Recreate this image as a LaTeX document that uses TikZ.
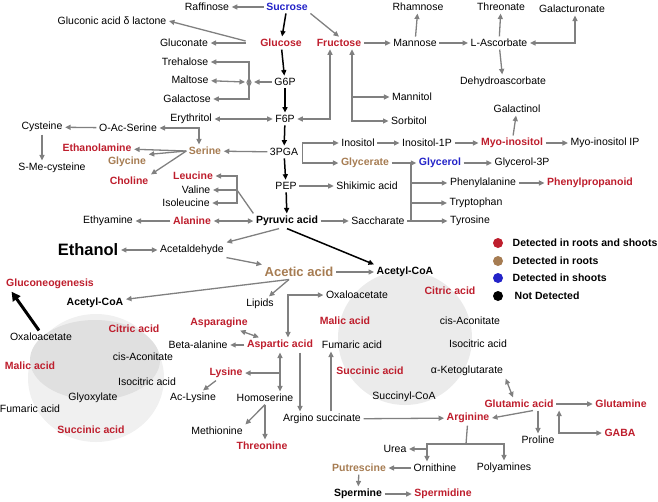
\documentclass[tikz,border=0pt]{standalone}
\usepackage{fontspec}
\setmainfont{Liberation Sans}
\usetikzlibrary{arrows.meta}
\definecolor{detred}{RGB}{190,30,45}
\definecolor{detbrown}{RGB}{166,124,82}
\definecolor{detblue}{RGB}{35,35,200}
\definecolor{flowgray}{RGB}{128,128,128}
\tikzset{
    >={Triangle[length=5.5pt,width=5pt]},
    metab/.style   = { inner sep=2.5pt, font=\fontsize{10.5}{12}\selectfont },
    inboth/.style  = { metab, text=detred, font=\fontsize{10.5}{12}\selectfont\bfseries },
    inroot/.style  = { metab, text=detbrown, font=\fontsize{10.5}{12}\selectfont\bfseries },
    inshoot/.style = { metab, text=detblue, font=\fontsize{10.5}{12}\selectfont\bfseries },
    notdet/.style  = { metab, font=\fontsize{10.5}{12}\selectfont\bfseries },
    flow/.style    = { draw=flowgray, line width=1.3pt, -> },
    dflow/.style   = { draw=flowgray, line width=1.3pt, <-> },
    gflow/.style   = { draw=flowgray, line width=1.3pt },
    main/.style    = { draw=black, line width=1.5pt, -> },
}

\begin{document}
\begin{tikzpicture}[x=1pt,y=-1pt]
\useasboundingbox (0,0) rectangle (658,501);
% cycles
\fill[black!6] (96,378) ellipse (68 and 64);
\fill[black!12] (95,360) ellipse (65 and 40);
\fill[black!8] (405,338) circle (67);

% sugars
\node[inshoot] (suc) at (287,7) {Sucrose};
\node[metab] (raf) at (207,7) {Raffinose};
\node[inboth] (glc) at (281,43) {Glucose};
\node[inboth] (fru) at (339,43) {Fructose};
\node[metab] (glcl) at (112,21) {Gluconic acid δ lactone};
\node[metab] (glcn) at (184,43) {Gluconate};
\node[metab] (tre) at (185,62) {Trehalose};
\node[metab] (mal) at (190,80) {Maltose};
\node[metab] (gal) at (187,99) {Galactose};
\node[metab] (g6p) at (285,82) {G6P};
\node[metab] (ery) at (191,119) {Erythritol};
\node[metab] (f6p) at (285,119) {F6P};
\node[metab] (man) at (415,43) {Mannose};
\node[metab] (rha) at (418,7) {Rhamnose};
\node[metab] (asc) at (499,43) {L-Ascorbate};
\node[metab] (thrn) at (501,7) {Threonate};
\node[metab] (galu) at (572,9) {Galacturonate};
\node[metab] (dha) at (503,82) {Dehydroascorbate};
\node[metab] (mnt) at (412,97) {Mannitol};
\node[metab] (sor) at (409,121) {Sorbitol};
\node[metab] (glctn) at (517,109) {Galactinol};
\node[metab] (ino) at (358,143) {Inositol};
\node[metab] (ino1p) at (427,143) {Inositol-1P};
\node[inboth] (myo) at (512,143) {Myo-inositol};
\node[metab] (myoip) at (605,143) {Myo-inositol IP};
\node[inroot] (gla) at (365,163) {Glycerate};
\node[inshoot] (gly) at (440,163) {Glycerol};
\node[metab] (g3p) at (522,163) {Glycerol-3P};
\node[metab] (phe) at (483,183) {Phenylalanine};
\node[inboth] (php) at (590,183) {Phenylpropanoid};
\node[metab] (trp) at (476,203) {Tryptophan};
\node[metab] (tyr) at (470,221) {Tyrosine};
\node[metab] (sac) at (378,221) {Saccharate};
\node[metab] (shi) at (367,186) {Shikimic acid};
\node[metab] (pga) at (284,152) {3PGA};
\node[metab] (pep) at (286,186) {PEP};
\node[notdet] (pyr) at (287,221) {Pyruvic acid};

% amino acids
\node[inroot] (ser) at (205,151) {Serine};
\node[metab] (oas) at (128,128) {O-Ac-Serine};
\node[metab] (cys) at (42,127) {Cysteine};
\node[metab] (smc) at (52,168) {S-Me-cysteine};
\node[inboth] (eta) at (97,148) {Ethanolamine};
\node[inroot] (glyc) at (127,162) {Glycine};
\node[inboth] (cho) at (129,181) {Choline};
\node[inboth] (leu) at (193,176) {Leucine};
\node[metab] (val) at (196,190) {Valine};
\node[metab] (ile) at (186,203) {Isoleucine};
\node[inboth] (ala) at (192,221) {Alanine};
\node[metab] (eth) at (108,221) {Ethyamine};
\node[notdet, font=\fontsize{16.5}{18}\selectfont\bfseries] (etoh) at (88,250) {Ethanol};
\node[metab] (acd) at (192,250) {Acetaldehyde};
\node[inroot, font=\fontsize{13}{15}\selectfont\bfseries] (ace) at (299,272) {Acetic acid};
\node[notdet] (acoa) at (405,272) {Acetyl-CoA};
\node[notdet] (acoa2) at (95,303) {Acetyl-CoA};
\node[metab] (lip) at (260,304) {Lipids};
\node[inboth] (gng) at (50,284) {Gluconeogenesis};

% glyoxylate cycle
\node[metab] (oaa2) at (41,337) {Oxaloacetate};
\node[inboth] (cit2) at (134,329) {Citric acid};
\node[metab] (cis2) at (143,357) {cis-Aconitate};
\node[inboth] (mala2) at (30,366) {Malic acid};
\node[metab] (ici2) at (147,382) {Isocitric acid};
\node[metab] (glx) at (93,398) {Glyoxylate};
\node[metab] (fum2) at (30,409) {Fumaric acid};
\node[inboth] (suca2) at (91,430) {Succinic acid};

% TCA cycle
\node[metab] (oaa) at (357,295) {Oxaloacetate};
\node[inboth] (mala) at (345,321) {Malic acid};
\node[metab] (fum) at (352,345) {Fumaric acid};
\node[inboth] (suca) at (370,371) {Succinic acid};
\node[inboth] (cit) at (450,291) {Citric acid};
\node[metab] (cis) at (470,321) {cis-Aconitate};
\node[metab] (ici) at (478,344) {Isocitric acid};
\node[metab] (akg) at (467,371) {α-Ketoglutarate};
\node[metab] (scoa) at (404,397) {Succinyl-CoA};

\node[inboth] (asp) at (280,345) {Aspartic acid};
\node[inboth] (asn) at (219,323) {Asparagine};
\node[metab] (bal) at (198,345) {Beta-alanine};
\node[inboth] (lys) at (226,373) {Lysine};
\node[metab] (alys) at (193,398) {Ac-Lysine};
\node[metab] (hse) at (265,398) {Homoserine};
\node[metab] (metn) at (217,431) {Methionine};
\node[inboth] (thre) at (262,446) {Threonine};
\node[metab] (args) at (322,419) {Argino succinate};
\node[inboth] (arg) at (468,418) {Arginine};
\node[inboth] (glu) at (519,404) {Glutamic acid};
\node[inboth] (glnm) at (621,404) {Glutamine};
\node[inboth] (gaba) at (620,433) {GABA};
\node[metab] (pro) at (538,440) {Proline};
\node[metab] (urea) at (395,449) {Urea};
\node[metab] (orn) at (435,468) {Ornithine};
\node[metab] (pam) at (504,468) {Polyamines};
\node[inroot] (put) at (359,468) {Putrescine};
\node[notdet] (spm) at (358,494) {Spermine};
\node[inboth] (spd) at (443,494) {Spermidine};

% legend
\fill[detred] (498,243) circle (5);
\fill[detbrown] (498,261) circle (5);
\fill[detblue] (498,278) circle (5);
\fill[black] (498,296) circle (5);
\node[notdet, anchor=west] (lg1) at (510,243) {Detected in roots and shoots};
\node[notdet, anchor=west] (lg2) at (510,261) {Detected in roots};
\node[notdet, anchor=west] (lg3) at (510,278) {Detected in shoots};
\node[notdet, anchor=west] (lg4) at (512,296) {Not Detected};

% main route
\draw[main] (suc) -- (glc);
\draw[main] (glc) -- (g6p);
\draw[main] (g6p) -- (f6p);
\draw[main] (f6p) -- (pga);
\draw[main] (pga) -- (pep);
\draw[main] (pep) -- (pyr);
\draw[main] (pyr.south) -- (acoa.north west);
\draw[main, line width=3pt, -{Triangle[length=9pt,width=9pt]}] ([xshift=-2pt]oaa2.north) -- ([xshift=8pt]gng.south west);

% sugars
\draw[flow] (suc) -- (raf);
\draw[flow] (suc.south east) -- (fru.north);
\draw[flow] ([xshift=-12pt]glc.west) -- (glcn);
\draw[flow] ([xshift=-12pt,yshift=2pt]glc.west) -- (glcl.east);
\coordinate (sj) at (249,82);
\draw[flow] (g6p) -- ([xshift=5pt]sj);
\draw[dflow] (tre) -| ([yshift=-6pt]sj);
\draw[dflow] (mal) -- ([xshift=-4pt]sj);
\draw[dflow] (gal) -| ([yshift=5pt]sj);
\draw[dflow] (ery) -- (f6p);
\draw[dflow] (f6p) -| ([xshift=-9pt]fru.south);
\draw[dflow] (sor) -| ([xshift=13pt]fru.south);
\draw[flow] ([xshift=13pt]fru.south |- mnt) -- (mnt);
\draw[flow] (fru) -- (man);
\draw[flow] (man) -- (rha);
\draw[flow] (man) -- (asc);
\draw[flow] (asc) -- (thrn);
\draw[flow] (asc) -- (dha);
\draw[dflow] (asc.east) -| ([xshift=3pt]galu.south);
\draw[flow] (pga) -- (ser);
\draw[flow] ([xshift=2pt]pga.east) |- (ino);
\draw[flow] ([xshift=2pt]pga.east) |- (gla);
\draw[flow] (ino) -- (ino1p);
\draw[flow] (ino1p) -- (myo);
\draw[flow] (myo) -- (myoip);
\draw[flow] (myo) -- (glctn);
\draw[flow] (gla) -- (gly);
\draw[flow] (gly) -- (g3p);
\draw[flow] (pep) -- (shi);
\draw[flow] (pyr) -- (sac);
\coordinate (ab) at (411,221);
\draw[flow] (sac) -- (tyr);
\draw[gflow] (ab) -- (ab |- gla);
\draw[flow] (ab |- phe) -- (phe);
\draw[flow] (ab |- trp) -- (trp);
\draw[flow] (phe) -- (php);

% amino acids
\draw[dflow] (oas) -| ([xshift=-6pt]ser.north);
\draw[flow] (oas) -- (cys);
\draw[flow] (cys) -- (cys |- smc.north);
\draw[flow] (ser.west) -- (eta);
\draw[flow] (ser.west) -- (glyc.north east);
\draw[flow] (ser.west) -- (cho.north east);
\coordinate (bcaa) at (237,190);
\draw[gflow] (pyr.north west) -- (bcaa);
\draw[flow] (bcaa) |- (leu);
\draw[flow] (bcaa) -- (val);
\draw[flow] (bcaa) |- (ile);
\draw[dflow] (ala) -- (pyr);
\draw[flow] (ala) -- (eth);
\draw[dflow] (etoh) -- (acd);
\draw[flow] ([xshift=-8pt]pyr.south) -- (acd.north east);
\draw[flow] (acd.south east) -- (ace.north west);
\draw[flow] (ace) -- (acoa);
\draw[flow] ([xshift=-10pt]ace.south) -- (acoa2);
\draw[flow] ([xshift=-10pt]ace.south) -- (lip);

% aspartate family
\draw[dflow] ([xshift=8pt]asp.north) |- (oaa);
\draw[dflow] (asn) -- (asp);
\draw[flow] (asp) -- (bal);
\draw[dflow] (asp.south) -- (asp.south |- hse.north);
\draw[flow] (asp.south |- lys) -- (lys);
\draw[flow] (lys) -- (alys);
\draw[flow] (hse.south) -- (metn.north east);
\draw[flow] (hse.south) -- (hse.south |- thre.north);
\draw[flow] ([xshift=20pt]asp.south) -- ([xshift=20pt]asp.south |- args.north);
\draw[flow] ([xshift=9pt]args.north) -- ([xshift=9pt]args.north |- fum.south);
\draw[flow] (args) -- (arg);

% glutamate family
\draw[dflow] (akg.south east) -- ([xshift=-6pt]glu.north);
\draw[flow] (glu) -- (glnm);
\draw[dflow] ([xshift=3pt]glu.south east) |- (gaba);
\draw[flow] (glu.south -| pro.north) -- (pro);
\draw[flow] ([xshift=14pt]glu.south) -- (arg.east);
\coordinate (ob) at (466,444);
\draw[gflow] (arg) -- (ob);
\draw[flow] (ob) -| (pam);
\draw[flow] (ob) -| ([xshift=-8pt]orn.north);
\draw[flow] ([xshift=-8pt]orn.north |- urea) -- (urea);
\draw[flow] (orn) -- (put);
\draw[flow] (put) -- (spm);
\draw[flow] (spm) -- (spd);
\end{tikzpicture}
\end{document}
